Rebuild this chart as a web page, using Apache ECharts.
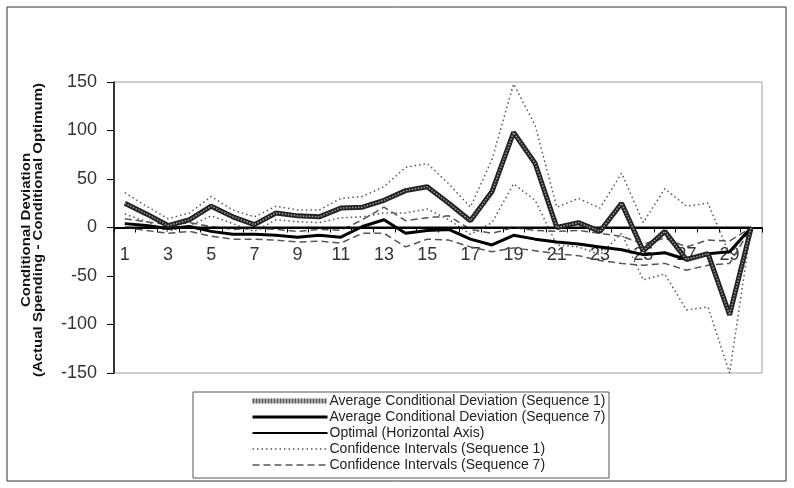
<!DOCTYPE html>
<html>
<head>
<meta charset="utf-8">
<script src="https://cdn.jsdelivr.net/npm/echarts@6/dist/echarts.min.js"></script>
<style>
  html, body { margin: 0; padding: 0; background: #fff; }
  #chart { width: 794px; height: 488px; }
</style>
</head>
<body>
<div id="chart"></div>
<script>
// periods 1..30
var periods = [];
for (var i = 1; i <= 30; i++) periods.push(String(i));

var avgSeq1 = [25, 14, 2, 8, 22, 11, 3, 15, 12, 11, 20, 21, 28, 38, 42, 25, 7, 37, 98, 66, 0, 5, -4, 25, -24, -4, -33, -27, -90, 0];
var avgSeq7 = [4, 2, -1, 1, -4, -7, -7, -8, -10, -8, -10, 1, 8, -6, -3, -2, -12, -18, -8, -12, -15, -17, -20, -23, -28, -26, -33, -27, -25, 0];
var optimal = [0, 0, 0, 0, 0, 0, 0, 0, 0, 0, 0, 0, 0, 0, 0, 0, 0, 0, 0, 0, 0, 0, 0, 0, 0, 0, 0, 0, 0, 0];
var ciSeq1Upper = [36, 22, 9, 15, 32, 18, 11, 22, 18, 18, 30, 32, 42, 62, 66, 45, 21, 70, 148, 105, 21, 30, 20, 56, 5, 40, 22, 25, -28, 0];
var ciSeq1Lower = [14, 6, -4, 2, 12, 4, -4, 8, 6, 5, 10, 11, 15, 15, 19, 8, -7, 5, 45, 28, -18, -20, -28, -6, -54, -48, -85, -82, -150, 0];
var ciSeq7Upper = [9, 6, 3, 5, 1, -2, -1, -2, -4, -2, -3, 8, 21, 7, 10, 12, -2, -6, 0, -3, -4, -3, -6, -9, -17, -11, -20, -13, -14, 0];
var ciSeq7Lower = [0, -3, -6, -4, -9, -12, -12, -13, -15, -14, -16, -6, -6, -20, -12, -13, -20, -25, -21, -24, -27, -29, -34, -37, -39, -37, -44, -39, -37, 0];

var yTicks = { min: -150, max: 150, step: 50 };

var names = [
  'Average Conditional Deviation (Sequence 1)',
  'Average Conditional Deviation (Sequence 7)',
  'Optimal (Horizontal Axis)',
  'Confidence Intervals (Sequence 1)',
  'Confidence Intervals (Sequence 7)'
];

var font = '"Liberation Sans", Arial, sans-serif';

function lineSeries(name, data, color, width, type, z) {
  return {
    name: name,
    type: 'line',
    data: data,
    symbol: 'none',
    silent: true,
    z: z,
    lineStyle: { color: color, width: width, type: type },
    itemStyle: { color: color }
  };
}

var chart = echarts.init(document.getElementById('chart'));
chart.setOption({
  animation: false,
  backgroundColor: '#fff',
  textStyle: { fontFamily: font },
  grid: {
    left: 114, top: 82, right: 32, bottom: 115,
    show: true, borderColor: '#a0a0a0', borderWidth: 1
  },
  xAxis: {
    type: 'category',
    data: periods,
    boundaryGap: true,
    axisLine: { onZero: true, lineStyle: { color: '#000', width: 2 } },
    axisTick: { show: true, interval: 0, length: 5, lineStyle: { color: '#000' } },
    axisLabel: { interval: 1, fontSize: 18, color: '#333', margin: -127, fontFamily: font },
    splitLine: { show: false }
  },
  yAxis: {
    type: 'value',
    min: yTicks.min, max: yTicks.max, interval: yTicks.step,
    axisLine: { show: true, lineStyle: { color: '#000', width: 1.5 } },
    axisTick: { show: true, length: 7, lineStyle: { color: '#000' } },
    axisLabel: { fontSize: 18, color: '#333', margin: 17, fontFamily: font },
    splitLine: { show: false }
  },
  legend: {
    data: [
      { name: names[0], lineStyle: { width: 5, color: '#555', type: [2, 1] } },
      { name: names[1], lineStyle: { width: 3, color: '#000' } },
      { name: names[2], lineStyle: { width: 2, color: '#000' } },
      { name: names[3], lineStyle: { width: 1.5, color: '#555', type: [1.5, 3] } },
      { name: names[4], lineStyle: { width: 1.5, color: '#555', type: [7, 4] } }
    ],
    orient: 'vertical',
    left: 250, top: 394,
    itemWidth: 75, itemHeight: 10, itemGap: 2,
    padding: 0,
    selectedMode: false,
    itemStyle: { color: 'rgba(0,0,0,0)', borderColor: 'rgba(0,0,0,0)', borderWidth: 0 },
    textStyle: { fontSize: 14, color: '#222', fontFamily: font, padding: [0, 0, 0, -3] }
  },
  graphic: [
    { type: 'rect', shape: { x: 7, y: 7, width: 779, height: 474 },
      style: { fill: 'none', stroke: '#333', lineWidth: 1 }, z: -1 },
    { type: 'rect', shape: { x: 193, y: 392, width: 416, height: 86 },
      style: { fill: 'none', stroke: '#555', lineWidth: 1 } },
    { type: 'text', x: 33, y: 230, rotation: Math.PI / 2, scaleX: 1.25,
      style: {
        text: 'Conditional Deviation\n(Actual Spending - Conditional Optimum)',
        font: 'bold 12px ' + font, fill: '#111',
        textAlign: 'center', textVerticalAlign: 'middle', lineHeight: 12
      } }
  ],
  series: [
    lineSeries(names[3], ciSeq1Upper, '#555', 1.5, [1.5, 3], 2),
    lineSeries(null, ciSeq1Lower, '#555', 1.5, [1.5, 3], 2),
    lineSeries(names[4], ciSeq7Upper, '#555', 1.5, [7, 4], 2),
    lineSeries(null, ciSeq7Lower, '#555', 1.5, [7, 4], 2),
    lineSeries(names[2], optimal, '#000', 2, 'solid', 3),
    lineSeries(names[1], avgSeq7, '#000', 3, 'solid', 4),
    lineSeries(names[0], avgSeq1, '#222', 5, 'solid', 5),
    lineSeries(null, avgSeq1, '#9a9a9a', 1.5, [1.5, 1.5], 6)
  ]
});
</script>
</body>
</html>
